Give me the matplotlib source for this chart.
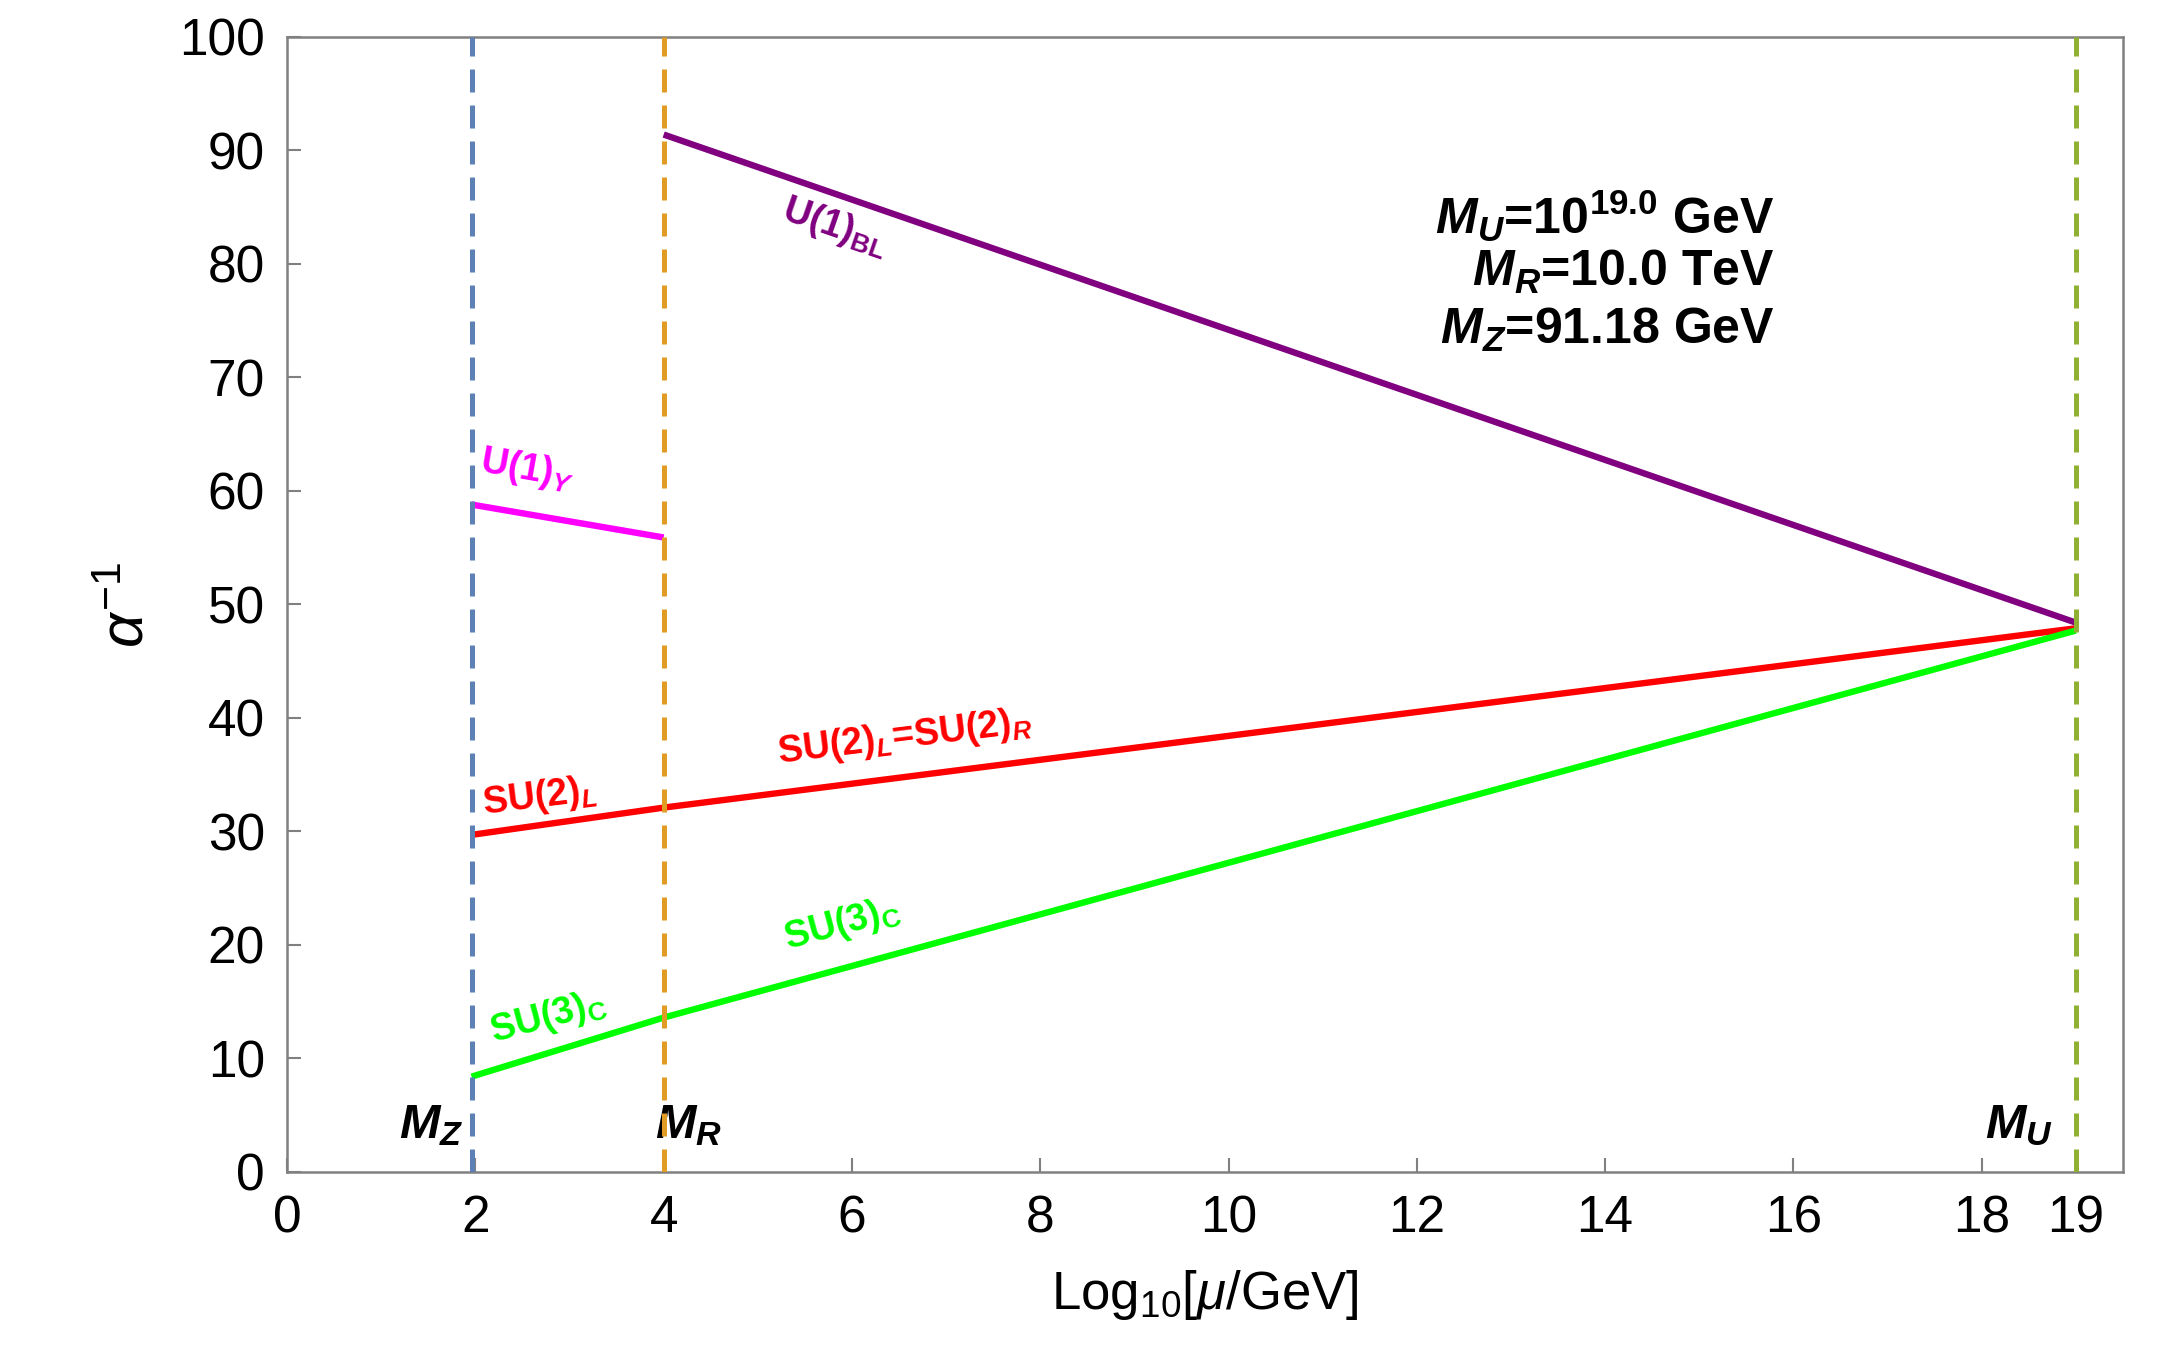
import numpy as np
import matplotlib.pyplot as plt

plt.rcParams['font.family'] = ['Liberation Sans', 'DejaVu Sans']
plt.rcParams['mathtext.fontset'] = 'custom'
plt.rcParams['mathtext.rm'] = 'Liberation Sans'
plt.rcParams['mathtext.it'] = 'Liberation Sans:italic'
plt.rcParams['mathtext.bf'] = 'Liberation Sans:bold'
plt.rcParams['mathtext.bfit'] = 'Liberation Sans:italic:bold'

# escalas (log10 de mu/GeV)
log_mz = 1.96
log_mr = 4.0
log_mu = 19.0

# alpha^-1 em cada ponto de escala
x_u1y = [log_mz, log_mr]
u1y = [58.8, 55.9]
x_low = [log_mz, log_mr, log_mu]
su2 = [29.7, 32.1, 47.9]
su3 = [8.4, 13.6, 47.7]
x_bl = [log_mr, log_mu]
u1bl = [91.4, 48.4]

xticks = [0, 2, 4, 6, 8, 10, 12, 14, 16, 18, 19]
yticks = list(range(0, 101, 10))

fig = plt.figure(figsize=(21.57, 13.48), dpi=100)
ax = fig.add_axes([0.1331, 0.1306, 0.8511, 0.842])

lw = 4.6
ax.plot(x_u1y, u1y, color='#FF00FF', lw=lw, solid_capstyle='butt')
ax.plot(x_low, su2, color='#FF0000', lw=lw, solid_capstyle='butt')
ax.plot(x_low, su3, color='#00FF00', lw=lw, solid_capstyle='butt')
ax.plot(x_bl, u1bl, color='#800080', lw=lw, solid_capstyle='butt')

# linhas verticais tracejadas
for xv, c in [(log_mz, '#5E81B5'), (log_mr, '#E19C24'), (log_mu, '#8FB032')]:
    ax.plot([xv, xv], [0, 100], color=c, lw=3.6, dashes=(4.6, 2.6), zorder=10)

# rótulos das curvas
fs = 27
def lab(x, y, s, c, rot):
    ax.text(x, y, s, color=c, fontsize=fs, fontweight='bold', rotation=rot,
            rotation_mode='anchor', ha='center', va='center')

lab(2.55, 61.9, r'U(1)$_{\mathbfit{Y}}$', '#FF00FF', -10)
lab(5.82, 83.3, r'U(1)$_{\mathbf{BL}}$', '#800080', -19)
lab(2.68, 33.0, r'SU(2)$_{\mathbfit{L}}$', '#FF0000', 7)
lab(6.56, 38.3, r'SU(2)$_{\mathbfit{L}}$=SU(2)$_{\mathbfit{R}}$', '#FF0000', 7)
lab(2.77, 13.6, r'SU(3)$_{\mathbf{C}}$', '#00FF00', 15)
lab(5.89, 21.8, r'SU(3)$_{\mathbf{C}}$', '#00FF00', 15)

# rótulos das escalas
for xv, s in [(1.53, r'$\mathbfit{M_Z}$'), (4.26, r'$\mathbfit{M_R}$'), (18.4, r'$\mathbfit{M_U}$')]:
    ax.text(xv, 4.1, s, fontsize=35, ha='center', va='center', color='black')

# caixa de texto
tfs = 36
ax.text(15.8, 84.2, r'$\mathbfit{M_U}$=10$^{\mathbf{19.0}}$ GeV', fontsize=tfs,
        fontweight='bold', ha='right', va='center')
ax.text(15.8, 79.3, r'$\mathbfit{M_R}$=10.0 TeV', fontsize=tfs,
        fontweight='bold', ha='right', va='center')
ax.text(15.8, 74.2, r'$\mathbfit{M_Z}$=91.18 GeV', fontsize=tfs,
        fontweight='bold', ha='right', va='center')

ax.set_xlim(0, 19.5)
ax.set_ylim(0, 100)
ax.set_xticks(xticks)
ax.set_yticks(yticks)
ax.tick_params(direction='in', length=10, width=1.5, color='#808080',
               labelsize=37, pad=16)
for sp in ax.spines.values():
    sp.set_color('#808080')
    sp.set_linewidth(1.8)

ax.set_xlabel(r'Log$_{10}$[$\mu$/GeV]', fontsize=38, labelpad=18)
ax.set_ylabel(r'$\alpha^{-1}$', fontsize=44, labelpad=16)

fig.savefig('out.png', dpi=100)
